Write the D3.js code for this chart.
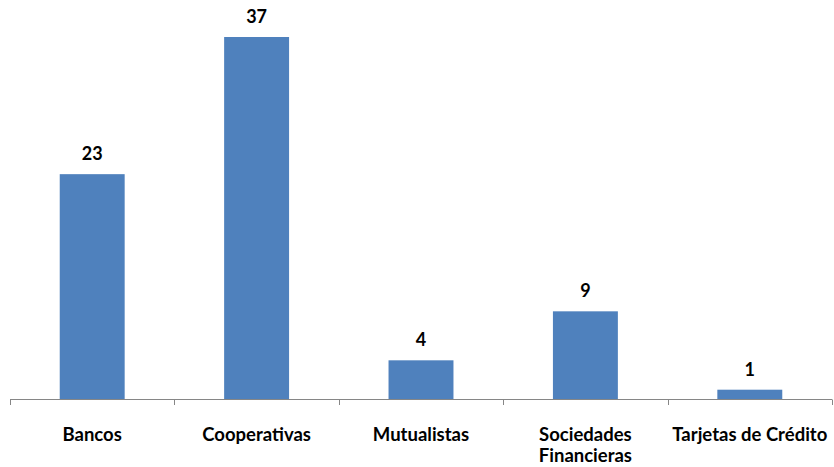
<!DOCTYPE html>
<html><head><meta charset="utf-8">
<script src="https://cdn.jsdelivr.net/npm/d3@7"></script>
<style>body{margin:0;background:#fff}</style>
</head><body>
<svg id="c" width="834" height="467"></svg>
<script>
const categories = ["Bancos", "Cooperativas", "Mutualistas", "Sociedades Financieras", "Tarjetas de Crédito"];
const categoryLines = [["Bancos"], ["Cooperativas"], ["Mutualistas"], ["Sociedades", "Financieras"], ["Tarjetas de Crédito"]];
const values = [23, 37, 4, 9, 1];

const svg = d3.select("#c");
const font = "Lato, 'Liberation Sans', sans-serif";
const x = d3.scaleBand().domain(categories).range([10, 832]).paddingInner(0.605).paddingOuter(0.3025);
const y = d3.scaleLinear().domain([0, 37]).range([399.5, 37]);

svg.selectAll("rect.bar").data(values).join("rect")
  .attr("class", "bar")
  .attr("x", (d, i) => x(categories[i]))
  .attr("width", x.bandwidth())
  .attr("y", d => y(d))
  .attr("height", d => y(0) - y(d))
  .attr("fill", "#4f81bd");

svg.selectAll("text.val").data(values).join("text")
  .attr("class", "val")
  .attr("x", (d, i) => x(categories[i]) + x.bandwidth() / 2)
  .attr("y", d => y(d) - 14)
  .attr("text-anchor", "middle")
  .attr("font-family", font).attr("font-weight", "bold").attr("font-size", 18)
  .attr("fill", "#000")
  .text(d => d);

// axis
const axisG = svg.append("g");
axisG.append("line").attr("x1", 10).attr("x2", 832).attr("y1", 399.5).attr("y2", 399.5)
  .attr("stroke", "#868686").attr("stroke-width", 1);
axisG.selectAll("line.tick").data(d3.range(categories.length + 1)).join("line")
  .attr("class", "tick")
  .attr("x1", i => Math.round(x.range()[0] + i * (x.range()[1] - x.range()[0]) / categories.length) + 0.5)
  .attr("x2", i => Math.round(x.range()[0] + i * (x.range()[1] - x.range()[0]) / categories.length) + 0.5)
  .attr("y1", 399.5).attr("y2", 405)
  .attr("stroke", "#868686").attr("stroke-width", 1);

const labels = svg.selectAll("text.cat").data(categoryLines).join("text")
  .attr("class", "cat")
  .attr("x", (d, i) => x(categories[i]) + x.bandwidth() / 2)
  .attr("y", 441)
  .attr("text-anchor", "middle")
  .attr("font-family", font).attr("font-weight", "bold").attr("font-size", 18.5)
  .attr("fill", "#000");
labels.each(function(lines) {
  const t = d3.select(this);
  lines.forEach((l, j) => t.append("tspan").attr("x", t.attr("x")).attr("dy", j === 0 ? 0 : 21).text(l));
});
</script>
</body></html>
